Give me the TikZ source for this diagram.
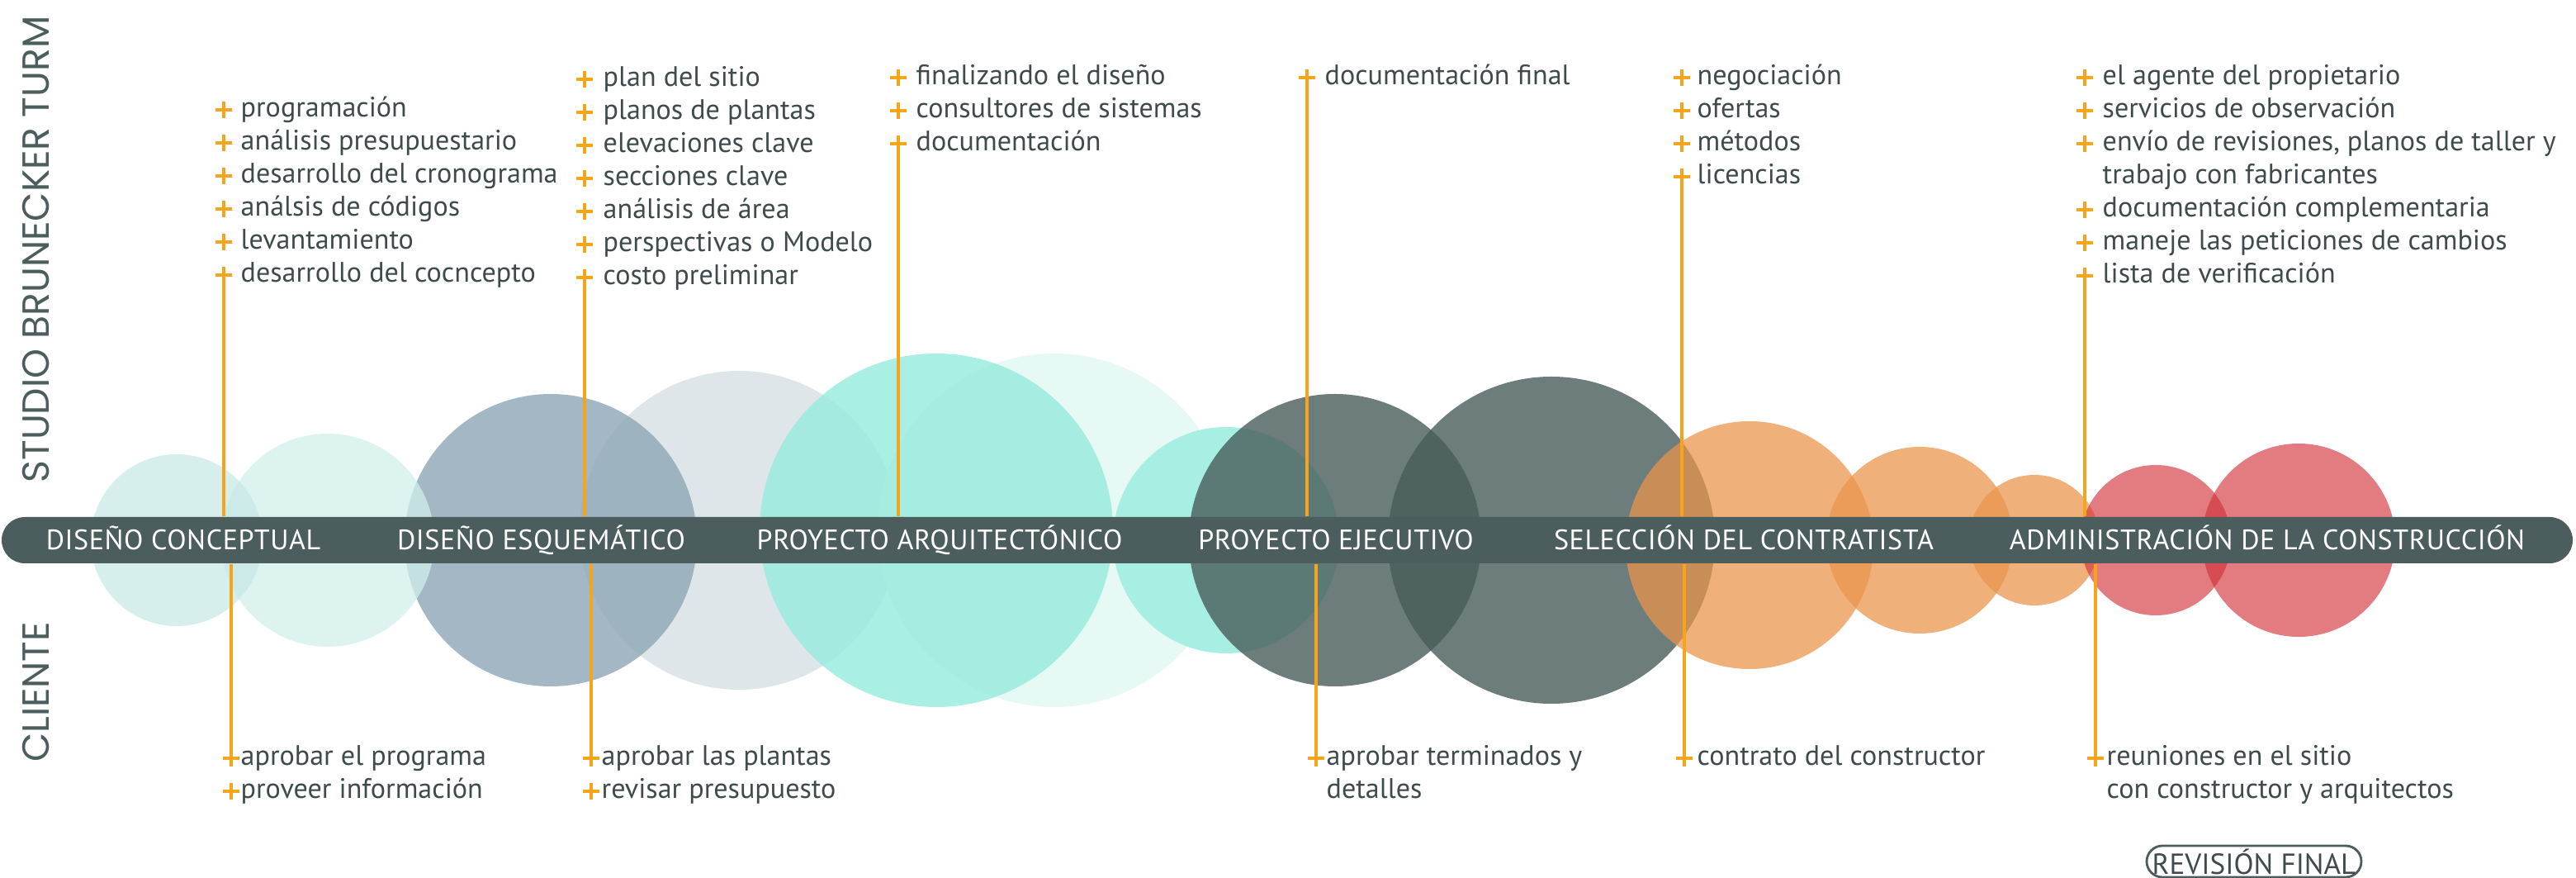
\documentclass[tikz,border=0pt]{standalone}
\usepackage{fontspec}
\setmainfont{PT Sans}
\newfontfamily\sidefont{Poppins}
\newfontfamily\stagefont[LetterSpace=1.7]{PT Sans}
\usepackage{tikz}
\usetikzlibrary{positioning}
\definecolor{mslate}{RGB}{75,93,92}
\definecolor{mtext}{RGB}{62,74,75}
\definecolor{morange}{RGB}{246,164,26}
\definecolor{mmint}{RGB}{200,233,229}
\definecolor{mmintb}{RGB}{209,239,235}
\definecolor{msteel}{RGB}{163,183,196}
\definecolor{mfog}{RGB}{145,172,182}
\definecolor{maqua}{RGB}{154,236,222}
\definecolor{maquab}{RGB}{230,249,245}
\definecolor{maquac}{RGB}{168,239,227}
\definecolor{mgray}{RGB}{72,92,90}
\definecolor{mpeach}{RGB}{234,149,76}
\definecolor{mred}{RGB}{209,48,55}
\tikzset{bar/.style = {fill=mslate, rounded corners=0.28cm, minimum width=31.14cm,
                       minimum height=0.56cm, inner sep=0pt},
         stage/.style = {text=white, anchor=base, inner sep=0pt,
                         font=\stagefont\fontsize{9.7}{11}\selectfont},
         item/.style = {text=mtext, anchor=west, inner sep=0pt, text height=0.25cm,
                        text depth=0.08cm, font=\fontsize{9.7}{11.4}\selectfont},
         link/.style = {draw=morange, line width=0.9pt},
         side/.style = {text=mslate, rotate=90, inner sep=0pt,
                        font=\sidefont\fontsize{13}{14}\selectfont},
         review/.style = {draw=mslate, line width=0.8pt, rounded corners=0.19cm,
                          minimum width=2.6cm, minimum height=0.38cm, inner sep=0pt,
                          text=mtext, font=\fontsize{10}{11}\selectfont}}
\newcommand{\plusmark}[1]{\draw [link] (#1) ++(-0.1, 0) -- ++(0.2, 0) ++(-0.1, -0.1) -- ++(0, 0.2);}

\begin{document}
\begin{tikzpicture}
      \useasboundingbox (0, -4.09) rectangle (31.2, 6.54);

      % phases
      \fill [msteel] (6.67, 0) circle (1.77);
      \fill [mmintb, opacity=0.75] (3.97, 0) circle (1.29);
      \fill [mmint, opacity=0.75] (2.14, 0) circle (1.04);
      \fill [mfog, opacity=0.3] (8.95, 0.12) circle (1.93);
      \fill [maquab] (12.77, 0.12) circle (2.14);
      \fill [maqua, opacity=0.85] (11.34, 0.12) circle (2.14);
      \fill [maquac] (14.85, 0) circle (1.37);
      \fill [mgray, opacity=0.8] (16.17, 0) circle (1.77);
      \fill [mgray, opacity=0.8] (18.79, 0) circle (1.98);
      \fill [mpeach, opacity=0.74] (21.19, -0.06) circle (1.5);
      \fill [mpeach, opacity=0.74] (23.25, 0) circle (1.13);
      \fill [mpeach, opacity=0.74] (24.64, 0) circle (0.79);
      \fill [mred, opacity=0.63] (26.11, 0) circle (0.91);
      \fill [mred, opacity=0.63] (27.84, 0) circle (1.17);

      \node [bar] (bar) at (15.59, 0) {};
      \node [stage] (s1) at (2.22, -0.12) {DISEÑO CONCEPTUAL};
      \node [stage] (s2) at (6.555, -0.12) {DISEÑO ESQUEMÁTICO};
      \node [stage] (s3) at (11.38, -0.12) {PROYECTO ARQUITECTÓNICO};
      \node [stage] (s4) at (16.18, -0.12) {PROYECTO EJECUTIVO};
      \node [stage] (s5) at (21.12, -0.12) {SELECCIÓN DEL CONTRATISTA};
      \node [stage] (s6) at (27.46, -0.12) {ADMINISTRACIÓN DE LA CONSTRUCCIÓN};

      \node [side] (studio) at (0.44, 3.52) {STUDIO BRUNECKER TURM};
      \node [side] (client) at (0.44, -1.84) {CLIENTE};

      % studio side
      \foreach \txt [count=\i from 0] in {programación, análisis presupuestario,
            desarrollo del cronograma, análsis de códigos, levantamiento,
            desarrollo del cocncepto} {
        \node [item] (t1-\i) at (2.91, 5.21 - 0.4*\i) {\txt};
        \plusmark{2.71, 5.21 - 0.4*\i}
      }
      \foreach \txt [count=\i from 0] in {plan del sitio, planos de plantas,
            elevaciones clave, secciones clave, análisis de área,
            perspectivas o Modelo, costo preliminar} {
        \node [item] (t2-\i) at (7.30, 5.58 - 0.4*\i) {\txt};
        \plusmark{7.08, 5.58 - 0.4*\i}
      }
      \foreach \txt [count=\i from 0] in {finalizando el diseño,
            consultores de sistemas, documentación} {
        \node [item] (t3-\i) at (11.09, 5.60 - 0.4*\i) {\txt};
        \plusmark{10.88, 5.60 - 0.4*\i}
      }
      \node [item] (t4-0) at (16.04, 5.60) {documentación final};
      \plusmark{15.83, 5.60}
      \foreach \txt [count=\i from 0] in {negociación, ofertas, métodos, licencias} {
        \node [item] (t5-\i) at (20.55, 5.60 - 0.4*\i) {\txt};
        \plusmark{20.37, 5.60 - 0.4*\i}
      }
      \foreach \y/\txt [count=\i from 0] in {5.60/el agente del propietario,
            5.20/servicios de observación,
            4.80/{envío de revisiones, planos de taller y},
            4.00/documentación complementaria,
            3.60/maneje las peticiones de cambios,
            3.20/lista de verificación} {
        \node [item] (t6-\i) at (25.46, \y) {\txt};
        \plusmark{25.25, \y}
      }
      \node [item] (t6-x) at (25.46, 4.40) {trabajo con fabricantes};

      \coordinate (t1) at (2.71, 3.21);
      \coordinate (t2) at (7.08, 3.18);
      \coordinate (t3) at (10.88, 4.80);
      \coordinate (t4) at (15.83, 5.60);
      \coordinate (t5) at (20.37, 4.40);
      \coordinate (t6) at (25.25, 3.20);
      \foreach \c in {t1, t2, t3, t4, t5, t6}
        \draw [link] (\c) -- (\c |- bar.north);

      % client side
      \node [item] (b1-0) at (2.91, -2.64) {aprobar el programa};
      \node [item] (b1-1) at (2.91, -3.04) {proveer información};
      \plusmark{2.80, -2.64}
      \plusmark{2.80, -3.04}
      \node [item] (b2-0) at (7.28, -2.64) {aprobar las plantas};
      \node [item] (b2-1) at (7.28, -3.04) {revisar presupuesto};
      \plusmark{7.16, -2.64}
      \plusmark{7.16, -3.04}
      \node [item] (b3-0) at (16.06, -2.64) {aprobar terminados y};
      \node [item] (b3-1) at (16.06, -3.04) {detalles};
      \plusmark{15.94, -2.64}
      \node [item] (b4-0) at (20.55, -2.64) {contrato del constructor};
      \plusmark{20.40, -2.64}
      \node [item] (b5-0) at (25.51, -2.64) {reuniones en el sitio};
      \node [item] (b5-1) at (25.51, -3.04) {con constructor y arquitectos};
      \plusmark{25.38, -2.64}

      \coordinate (b1) at (2.80, -2.74);
      \coordinate (b2) at (7.16, -2.74);
      \coordinate (b3) at (15.94, -2.74);
      \coordinate (b4) at (20.40, -2.74);
      \coordinate (b5) at (25.38, -2.74);
      \foreach \c in {b1, b2, b3, b4, b5}
        \draw [link] (\c |- bar.south) -- (\c);

      \node [review] (rev) at (27.30, -3.89) {REVISIÓN FINAL};
    \end{tikzpicture}
\end{document}
